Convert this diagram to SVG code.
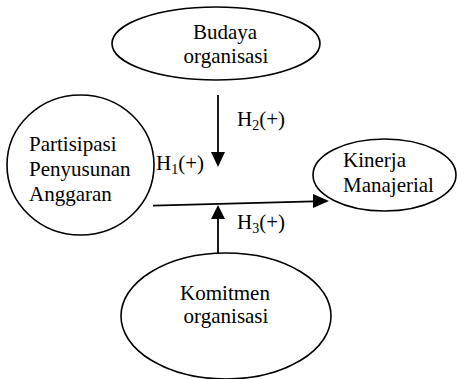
<svg xmlns="http://www.w3.org/2000/svg" width="457" height="379" viewBox="0 0 457 379">
<defs>
<style>
.n{fill:#fff;stroke:#000;stroke-width:1.6}
.t{font-family:"Liberation Serif","Times New Roman",serif;font-size:21px;fill:#000}
.c{stroke:#000;stroke-width:1.8;fill:none}
.h{fill:#000;stroke:none}
.s{font-size:14px}
</style>
</defs>
<g id="budaya">
<ellipse class="n" cx="216" cy="43.5" rx="104" ry="36.5"/>
<text class="t" x="225" y="39" text-anchor="middle">Budaya</text>
<text class="t" x="226" y="63" text-anchor="middle">organisasi</text>
</g>
<g id="partisipasi">
<ellipse class="n" cx="80.5" cy="165" rx="73.5" ry="70"/>
<text class="t" x="29" y="151">Partisipasi</text>
<text class="t" x="29" y="176">Penyusunan</text>
<text class="t" x="29" y="201">Anggaran</text>
</g>
<g id="kinerja">
<ellipse class="n" cx="384.5" cy="175" rx="71.5" ry="36"/>
<text class="t" x="343" y="167">Kinerja</text>
<text class="t" x="343" y="192">Manajerial</text>
</g>
<g id="komitmen">
<ellipse class="n" cx="226" cy="316" rx="105" ry="63"/>
<text class="t" x="225" y="300" text-anchor="middle">Komitmen</text>
<text class="t" x="226" y="323" text-anchor="middle">organisasi</text>
</g>
<g id="connectors">
<line class="c" x1="218" y1="95" x2="218" y2="153"/>
<polygon class="h" points="211,152 225,152 218,167"/>
<line class="c" x1="153" y1="205.7" x2="314" y2="201.4"/>
<polygon class="h" points="313,194 313,208 329,201"/>
<line class="c" x1="218" y1="253" x2="218" y2="218"/>
<polygon class="h" points="211,219 225,219 218,205"/>
</g>
<g id="labels">
<text class="t" x="237" y="126">H<tspan class="s" dy="4">2</tspan><tspan dy="-4">(+)</tspan></text>
<text class="t" x="156" y="170">H<tspan class="s" dy="4">1</tspan><tspan dy="-4">(+)</tspan></text>
<text class="t" x="237" y="229">H<tspan class="s" dy="4">3</tspan><tspan dy="-4">(+)</tspan></text>
</g>
</svg>
